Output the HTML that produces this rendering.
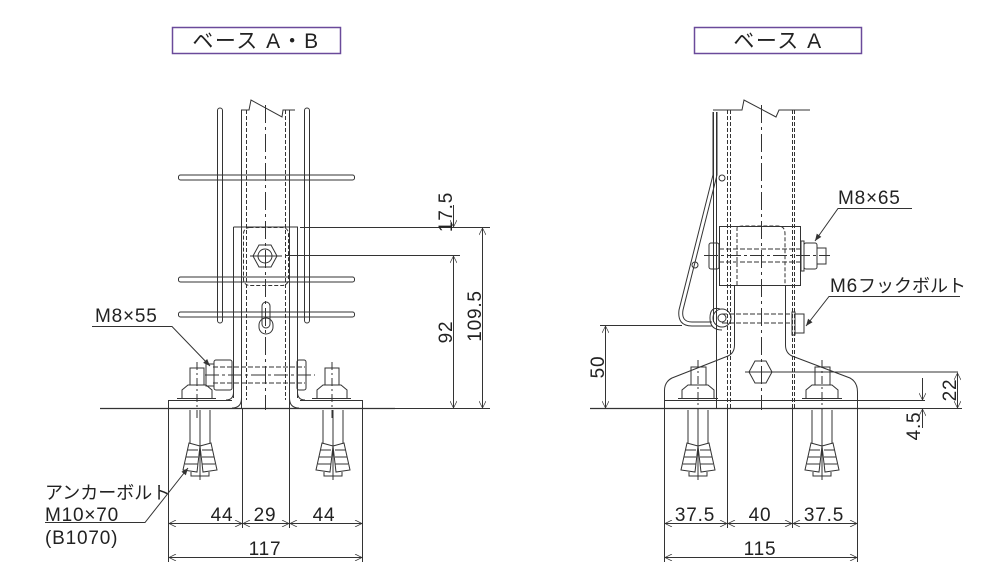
<!DOCTYPE html>
<html><head><meta charset="utf-8"><style>
html,body{margin:0;padding:0;background:#fff;}
svg{display:block}
text{font-family:"Liberation Sans","Noto Sans CJK JP",sans-serif;fill:#222}
</style></head><body>
<svg width="997" height="588" viewBox="0 0 997 588" xmlns="http://www.w3.org/2000/svg">
<defs>
<marker id="a" viewBox="0 0 10 10" refX="10" refY="5" markerWidth="9" markerHeight="7" orient="auto-start-reverse" markerUnits="userSpaceOnUse"><path d="M0,0 L10,5 L0,10" fill="none" stroke="#333" stroke-width="1"/></marker>
<marker id="f" viewBox="0 0 10 10" refX="10" refY="5" markerWidth="9" markerHeight="7" orient="auto" markerUnits="userSpaceOnUse"><path d="M0,1 L10,5 L0,9 z" fill="#333"/></marker>
</defs>
<g fill="none" stroke="#333" stroke-width="1">
<rect x="172.5" y="27.5" width="168" height="26" stroke="#6a4a9a" stroke-width="1.5"/>
<rect x="694.5" y="27.5" width="167" height="26" stroke="#6a4a9a" stroke-width="1.5"/>

<!-- ===== LEFT ===== -->
<line x1="100" y1="408.5" x2="395" y2="408.5" stroke-width="1.3"/>
<line x1="241.5" y1="110" x2="241.5" y2="408"/>
<line x1="289.5" y1="110" x2="289.5" y2="408"/>
<line x1="246.5" y1="110" x2="246.5" y2="400" stroke-dasharray="4,2"/>
<line x1="285.5" y1="110" x2="285.5" y2="400" stroke-dasharray="4,2"/>
<line x1="265.5" y1="105" x2="265.5" y2="410" stroke-dasharray="18,4,3,4"/>
<path d="M241,110 H249 L251,100 L282,117 L283,110 H295"/>
<rect x="217.5" y="108" width="5" height="215" rx="2.5"/>
<rect x="304.5" y="108" width="5" height="215" rx="2.5"/>
<rect x="178.5" y="175" width="176" height="5" rx="2"/>
<rect x="178.5" y="277" width="176" height="5" rx="2"/>
<rect x="178.5" y="312" width="176" height="5" rx="2"/>
<path d="M233.5,227 H297.5 V398 M233.5,227 V398"/>
<rect x="243.5" y="227.5" width="45" height="58" rx="6" stroke-dasharray="4,2"/>
<polygon points="253,256 259,245 271,245 277,256 271,267 259,267"/>
<circle cx="265" cy="256" r="7"/>
<line x1="250" y1="256" x2="282" y2="256"/>
<rect x="262" y="302" width="8" height="26" rx="4"/>
<rect x="259" y="318" width="14" height="16" rx="7"/>
<path d="M233.5,385 V392 Q233.5,400 226,400 M297.5,385 V392 Q297.5,400 305,400"/>
<path d="M241.5,385 V398 Q241.5,408 232,408 M289.5,385 V398 Q289.5,408 299,408"/>
<path d="M168.5,408 V400.5 H232 M300,400.5 H362.5 V408"/>
<rect x="206" y="364" width="8" height="22"/>
<rect x="214" y="360" width="18" height="30" rx="2"/>
<line x1="213" y1="367" x2="305" y2="367" stroke-dasharray="5,2"/>
<line x1="213" y1="383" x2="305" y2="383" stroke-dasharray="5,2"/>
<line x1="205" y1="375" x2="315" y2="375" stroke-dasharray="14,3,3,3"/>
<rect x="297" y="360" width="9" height="30" rx="2"/>
<rect x="190" y="368" width="14" height="17"/>
<path d="M182,398 V390 L188,385 H206 L212,390 V398"/>
<line x1="177" y1="398.5" x2="216" y2="398.5"/>
<line x1="197" y1="362" x2="197" y2="420" stroke-dasharray="8,3,2,3"/>
<rect x="325" y="368" width="14" height="17"/>
<path d="M317,398 V390 L323,385 H341 L347,390 V398"/>
<line x1="312" y1="398.5" x2="351" y2="398.5"/>
<line x1="332" y1="362" x2="332" y2="420" stroke-dasharray="8,3,2,3"/>
<line x1="168.5" y1="408" x2="168.5" y2="562"/>
<line x1="242.5" y1="408" x2="242.5" y2="528"/>
<line x1="289.5" y1="408" x2="289.5" y2="528"/>
<line x1="362.5" y1="408" x2="362.5" y2="562"/>
<g id="anc">
<path d="M190,410 V443 M210,410 V443 M200,410 V480"/>
<path d="M189,443 L183,470 L197,472 L200,446 Z M211,443 L217,470 L203,472 L200,446 Z"/>
<path d="M187,450 H198 M186,457 H198 M185,464 H198 M213,450 H202 M214,457 H202 M215,464 H202"/>
<path d="M191,472 V476 H209 V472"/>
</g>
<use href="#anc" x="133"/>
<line x1="300" y1="227.5" x2="490" y2="227.5"/>
<line x1="285" y1="255.5" x2="460" y2="255.5"/>
<line x1="395" y1="408.5" x2="490" y2="408.5"/>
<line x1="453.5" y1="205" x2="453.5" y2="227" marker-end="url(#a)"/>
<line x1="453.5" y1="256" x2="453.5" y2="408" marker-start="url(#a)" marker-end="url(#a)"/>
<line x1="482.5" y1="228" x2="482.5" y2="408" marker-start="url(#a)" marker-end="url(#a)"/>
<line x1="169" y1="523.5" x2="242" y2="523.5" marker-start="url(#a)" marker-end="url(#a)"/>
<line x1="243" y1="523.5" x2="289" y2="523.5" marker-start="url(#a)" marker-end="url(#a)"/>
<line x1="290" y1="523.5" x2="362" y2="523.5" marker-start="url(#a)" marker-end="url(#a)"/>
<line x1="169" y1="557.5" x2="362" y2="557.5" marker-start="url(#a)" marker-end="url(#a)"/>
<path d="M92,326.5 H172 L210,366" marker-end="url(#f)"/>
<path d="M45,522.5 H145 L188,468" marker-end="url(#f)"/>

<!-- ===== RIGHT ===== -->
<line x1="590" y1="408.5" x2="890" y2="408.5" stroke-width="1.3"/>
<path d="M713.5,112 V322 M716.5,112 V408"/>
<line x1="727.5" y1="110" x2="727.5" y2="408" stroke-dasharray="4,2"/>
<line x1="730.5" y1="110" x2="730.5" y2="408" stroke-dasharray="4,2"/>
<line x1="792.5" y1="110" x2="792.5" y2="408" stroke-dasharray="4,2"/>
<line x1="794.5" y1="110" x2="794.5" y2="408" stroke-dasharray="4,2"/>
<line x1="761.5" y1="105" x2="761.5" y2="410" stroke-dasharray="18,4,3,4"/>
<path d="M713,110 H742 L744,100 L776,117 L779,110 H810"/>
<path d="M717,112 V175 L683,310 Q681,322 692,322 H712"/>
<path d="M713,112 V175 L679,310 Q677,326 692,326 H712"/>
<circle cx="722" cy="178" r="3"/>
<circle cx="695" cy="265" r="3"/>
<rect x="719.5" y="226.5" width="81" height="59"/>
<path d="M737,285 V228 Q737,226 745,226 H778 Q785,226 785,234 V285" stroke-dasharray="4,2"/>
<rect x="709" y="243" width="10" height="26" rx="2"/>
<line x1="719" y1="249" x2="800" y2="249" stroke-dasharray="5,2"/>
<line x1="719" y1="262" x2="800" y2="262" stroke-dasharray="5,2"/>
<rect x="801" y="241" width="3" height="30"/>
<rect x="804" y="243" width="13" height="26" rx="2"/>
<rect x="817" y="248" width="9" height="16"/>
<line x1="704" y1="255.5" x2="830" y2="255.5" stroke-dasharray="14,3,3,3"/>
<circle cx="722" cy="318" r="9"/>
<circle cx="722" cy="318" r="4"/>
<path d="M720,309 Q710,306 710,318 Q710,330 722,330"/>
<line x1="722" y1="314" x2="792" y2="314" stroke-dasharray="5,2"/>
<line x1="722" y1="323" x2="792" y2="323" stroke-dasharray="5,2"/>
<rect x="792" y="312" width="3" height="23"/>
<rect x="795" y="314" width="9" height="19"/>
<path d="M734.5,285 V345 Q734.5,353 728,356 L672,378 Q664,382 664.5,392 V408"/>
<path d="M785.5,285 V345 Q785.5,353 792,356 L850,378 Q857.5,382 857.5,392 V408"/>
<line x1="664" y1="400.5" x2="857" y2="400.5"/>
<polygon points="749,372 755,361 766,361 772,372 766,383 755,383"/>
<line x1="745" y1="372" x2="958" y2="372"/>
<rect x="691" y="367" width="15" height="18"/>
<path d="M682,398 V390 L688,385 H708 L714,390 V398"/>
<line x1="678" y1="398.5" x2="718" y2="398.5"/>
<line x1="698" y1="360" x2="698" y2="420" stroke-dasharray="8,3,2,3"/>
<rect x="815" y="367" width="15" height="18"/>
<path d="M806,398 V390 L812,385 H832 L838,390 V398"/>
<line x1="802" y1="398.5" x2="842" y2="398.5"/>
<line x1="822" y1="360" x2="822" y2="420" stroke-dasharray="8,3,2,3"/>
<line x1="857" y1="400.5" x2="925" y2="400.5"/>
<line x1="664.5" y1="408" x2="664.5" y2="562"/>
<line x1="727.5" y1="408" x2="727.5" y2="528"/>
<line x1="792.5" y1="408" x2="792.5" y2="528"/>
<line x1="857.5" y1="408" x2="857.5" y2="562"/>
<use href="#anc" x="498"/>
<use href="#anc" x="622"/>
<line x1="600" y1="325.5" x2="682" y2="325.5"/>
<line x1="605.5" y1="326" x2="605.5" y2="408" marker-start="url(#a)" marker-end="url(#a)"/>
<line x1="957.5" y1="373" x2="957.5" y2="408" marker-start="url(#a)" marker-end="url(#a)"/>
<line x1="922.5" y1="378" x2="922.5" y2="400" marker-end="url(#a)"/>
<line x1="922.5" y1="428" x2="922.5" y2="409" marker-end="url(#a)"/>
<line x1="890" y1="408.5" x2="962" y2="408.5"/>
<line x1="665" y1="523.5" x2="727" y2="523.5" marker-start="url(#a)" marker-end="url(#a)"/>
<line x1="728" y1="523.5" x2="792" y2="523.5" marker-start="url(#a)" marker-end="url(#a)"/>
<line x1="793" y1="523.5" x2="857" y2="523.5" marker-start="url(#a)" marker-end="url(#a)"/>
<line x1="665" y1="557.5" x2="857" y2="557.5" marker-start="url(#a)" marker-end="url(#a)"/>
<path d="M912,208.5 H838 L815,241" marker-end="url(#f)"/>
<path d="M960,296.5 H829 L806,326" marker-end="url(#f)"/>
</g>

<g font-size="21" letter-spacing="1.5">
<text x="256" y="48" text-anchor="middle">ベース A・B</text>
<text x="778" y="48" text-anchor="middle">ベース A</text>
</g>
<g font-size="19" letter-spacing="0.8">
<text x="95" y="322">M8×55</text>
<text x="45" y="499" font-size="18" letter-spacing="0">アンカーボルト</text>
<text x="45" y="521">M10×70</text>
<text x="45" y="544">(B1070)</text>
<text x="222" y="521" text-anchor="middle">44</text>
<text x="265" y="521" text-anchor="middle">29</text>
<text x="324" y="521" text-anchor="middle">44</text>
<text x="265" y="555" text-anchor="middle">117</text>
<text transform="translate(452,212) rotate(-90)" text-anchor="middle">17.5</text>
<text transform="translate(452,332) rotate(-90)" text-anchor="middle">92</text>
<text transform="translate(481,316) rotate(-90)" text-anchor="middle">109.5</text>
<text x="838" y="204">M8×65</text>
<text x="830" y="292">M6<tspan font-size="18" letter-spacing="0">フックボルト</tspan></text>
<text transform="translate(604,367) rotate(-90)" text-anchor="middle">50</text>
<text transform="translate(956,390) rotate(-90)" text-anchor="middle">22</text>
<text transform="translate(920,426) rotate(-90)" text-anchor="middle">4.5</text>
<text x="695" y="521" text-anchor="middle">37.5</text>
<text x="760" y="521" text-anchor="middle">40</text>
<text x="824" y="521" text-anchor="middle">37.5</text>
<text x="760" y="555" text-anchor="middle">115</text>
</g>
</svg>
</body></html>
